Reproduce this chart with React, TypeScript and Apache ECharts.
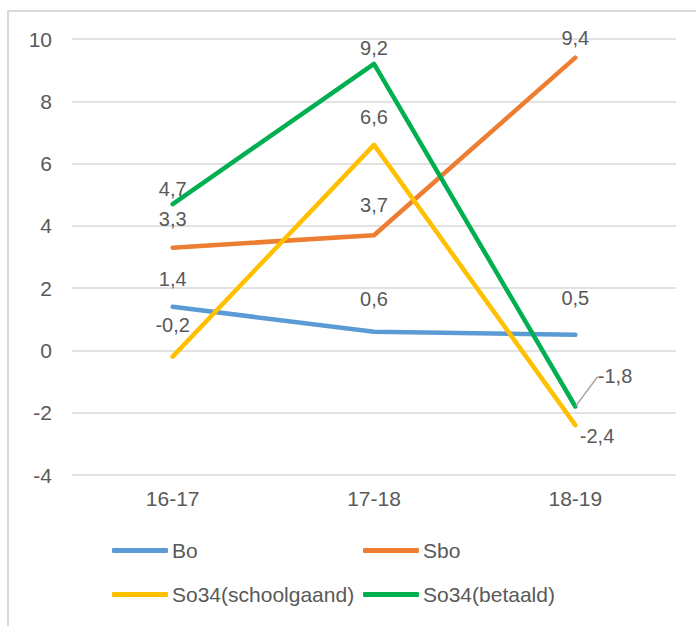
import React, { useEffect, useRef } from "react";
import * as echarts from "echarts";

const categories = ["16-17", "17-18", "18-19"];
const seriesNames = ["Bo", "Sbo", "So34(schoolgaand)", "So34(betaald)"];
const boValues = [1.4, 0.6, 0.5];
const sboValues = [3.3, 3.7, 9.4];
const schoolgaandValues = [-0.2, 6.6, -2.4];
const betaaldValues = [4.7, 9.2, -1.8];
const yMin = -4;
const yMax = 10;
const yInterval = 2;

const colors = ["#5B9BD5", "#ED7D31", "#FFC000", "#00B050"];
const FONT = "Liberation Sans, Arial, sans-serif";
const TEXT = "#595959";

const fmt = (v: number) => String(v).replace(".", ",");

// per-point label placement tweaks (style only)
const labelTweaks: Record<string, any>[][] = [
  [{ offset: [0, -12] }, { offset: [0, -17] }, { offset: [0, -21] }],
  [{ offset: [0, -13] }, { offset: [0, -15] }, { offset: [0, -4] }],
  [{ offset: [0, -16] }, { offset: [0, -12] }, { position: "right", distance: 4, offset: [0, 11] }],
  [{ offset: [0, -13] }, { offset: [0, -10] }, { position: "right", distance: 5 }],
];

export default function App() {
  const ref = useRef<HTMLDivElement>(null);
  useEffect(() => {
    document.body.style.margin = "0";
    if (!ref.current) return;
    const chart = echarts.init(ref.current, null, { renderer: "svg" });
    const allValues = [boValues, sboValues, schoolgaandValues, betaaldValues];
    const series = allValues.map((vals, si) => ({
      name: seriesNames[si],
      type: "line",
      data: vals.map((v, i) => {
        const item: any = { value: v, label: { ...labelTweaks[si][i] } };
        if (si === 3 && i === 2) {
          item.labelLine = { show: true, lineStyle: { color: "#a6a6a6", width: 1.5 } };
        }
        return item;
      }),
      symbol: "circle",
      symbolSize: 1,
      showSymbol: true,
      itemStyle: { color: colors[si] },
      lineStyle: { color: colors[si], width: 4.5, cap: "round", join: "round" },
      label: {
        show: true,
        position: "top",
        distance: 5,
        color: TEXT,
        fontSize: 20,
        fontFamily: FONT,
        formatter: (p: any) => fmt(p.value),
      },
      labelLayout:
        si === 3
          ? (p: any) => (p.dataIndex === 2 ? { dx: 17, dy: -30 } : {})
          : undefined,
      z: 2 + si,
    }));
    const legendPos = [
      { left: 112, top: 540 },
      { left: 363, top: 540 },
      { left: 112, top: 584 },
      { left: 363, top: 584 },
    ];
    const legends = seriesNames.map((n, i) => ({
      data: [n],
      left: legendPos[i].left,
      top: legendPos[i].top,
      icon: "roundRect",
      itemWidth: 56,
      itemHeight: 5,
      itemGap: 0,
      padding: 0,
      selectedMode: false,
      textStyle: { color: TEXT, fontSize: 21, fontFamily: FONT, padding: [0, 0, 0, -1] },
    }));
    chart.setOption({
      animation: false,
      backgroundColor: "#ffffff",
      grid: { left: 72, right: 20, top: 39, bottom: 151, containLabel: false },
      xAxis: {
        type: "category",
        data: categories,
        boundaryGap: true,
        axisLine: { show: false },
        axisTick: { show: false },
        axisLabel: { color: TEXT, fontSize: 21, fontFamily: FONT, margin: 13 },
      },
      yAxis: {
        type: "value",
        min: yMin,
        max: yMax,
        interval: yInterval,
        axisLine: { show: false },
        axisTick: { show: false },
        axisLabel: { color: TEXT, fontSize: 21, fontFamily: FONT, margin: 20 },
        splitLine: { lineStyle: { color: "#d9d9d9", width: 1.5 } },
      },
      legend: legends,
      graphic: [
        {
          type: "rect",
          shape: { x: 8, y: 11, width: 900, height: 900 },
          style: { fill: "none", stroke: "#d9d9d9", lineWidth: 2 },
          silent: true,
          z: 0,
        },
      ],
      series,
    });
    return () => chart.dispose();
  }, []);
  return <div ref={ref} style={{ width: 696, height: 626 }} />;
}
